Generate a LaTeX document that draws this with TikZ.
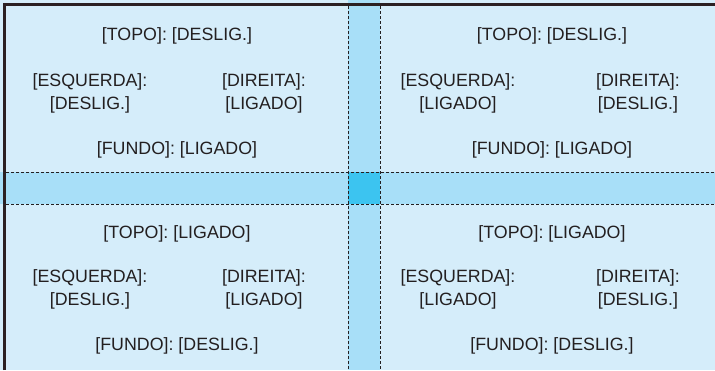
\documentclass[tikz,border=0pt]{standalone}
\usepackage{fontspec}
\setmainfont{Liberation Sans}
\usepackage{tikz}
\usetikzlibrary{positioning}

\definecolor{panel}{HTML}{D5EDFA}
\definecolor{band}{HTML}{A8DFF8}
\definecolor{cross}{HTML}{3CC4F0}
\definecolor{frame}{HTML}{2B2023}
\definecolor{ink}{HTML}{231F20}

\begin{document}
\begin{tikzpicture}[
  x=1pt, y=-1pt,
  every node/.style={font=\fontsize{17.8}{23}\selectfont, text=ink},
  lbl/.style={align=center, inner sep=0pt},
  cut/.style={draw=ink, line width=1pt, dash pattern=on 3pt off 2pt},
]
\useasboundingbox (0,0) rectangle (715,370);

% panels and bands
\fill[panel] (0,0) rectangle (715,370);
\fill[band] (348,0) rectangle (380,370);
\fill[band] (0,172) rectangle (715,204);
\fill[cross] (348,172) rectangle (380,204);

% cut lines
\draw[cut] (348,6) -- (348,370);
\draw[cut] (380,6) -- (380,370);
\draw[cut] (6,172) -- (715,172);
\draw[cut] (6,204) -- (715,204);

% frame
\draw[frame, line width=3pt] (4.5,370) -- (4.5,4.5) -- (715,4.5);

% top left
\node[lbl] (tl-topo) at (177,36) {[TOPO]: [DESLIG.]};
\node[lbl] (tl-esq) at (90,93) {[ESQUERDA]:\\{}[DESLIG.]};
\node[lbl] (tl-dir) at (264,93) {[DIREITA]:\\{}[LIGADO]};
\node[lbl] (tl-fundo) at (177,149.5) {[FUNDO]: [LIGADO]};

% top right
\node[lbl] (tr-topo) at (552,36) {[TOPO]: [DESLIG.]};
\node[lbl] (tr-esq) at (458,93) {[ESQUERDA]:\\{}[LIGADO]};
\node[lbl] (tr-dir) at (638,93) {[DIREITA]:\\{}[DESLIG.]};
\node[lbl] (tr-fundo) at (552,149.5) {[FUNDO]: [LIGADO]};

% bottom left
\node[lbl] (bl-topo) at (177,233.5) {[TOPO]: [LIGADO]};
\node[lbl] (bl-esq) at (90,289) {[ESQUERDA]:\\{}[DESLIG.]};
\node[lbl] (bl-dir) at (264,289) {[DIREITA]:\\{}[LIGADO]};
\node[lbl] (bl-fundo) at (177,345.5) {[FUNDO]: [DESLIG.]};

% bottom right
\node[lbl] (br-topo) at (552,233.5) {[TOPO]: [LIGADO]};
\node[lbl] (br-esq) at (458,289) {[ESQUERDA]:\\{}[LIGADO]};
\node[lbl] (br-dir) at (638,289) {[DIREITA]:\\{}[DESLIG.]};
\node[lbl] (br-fundo) at (552,345.5) {[FUNDO]: [DESLIG.]};
\end{tikzpicture}
\end{document}
